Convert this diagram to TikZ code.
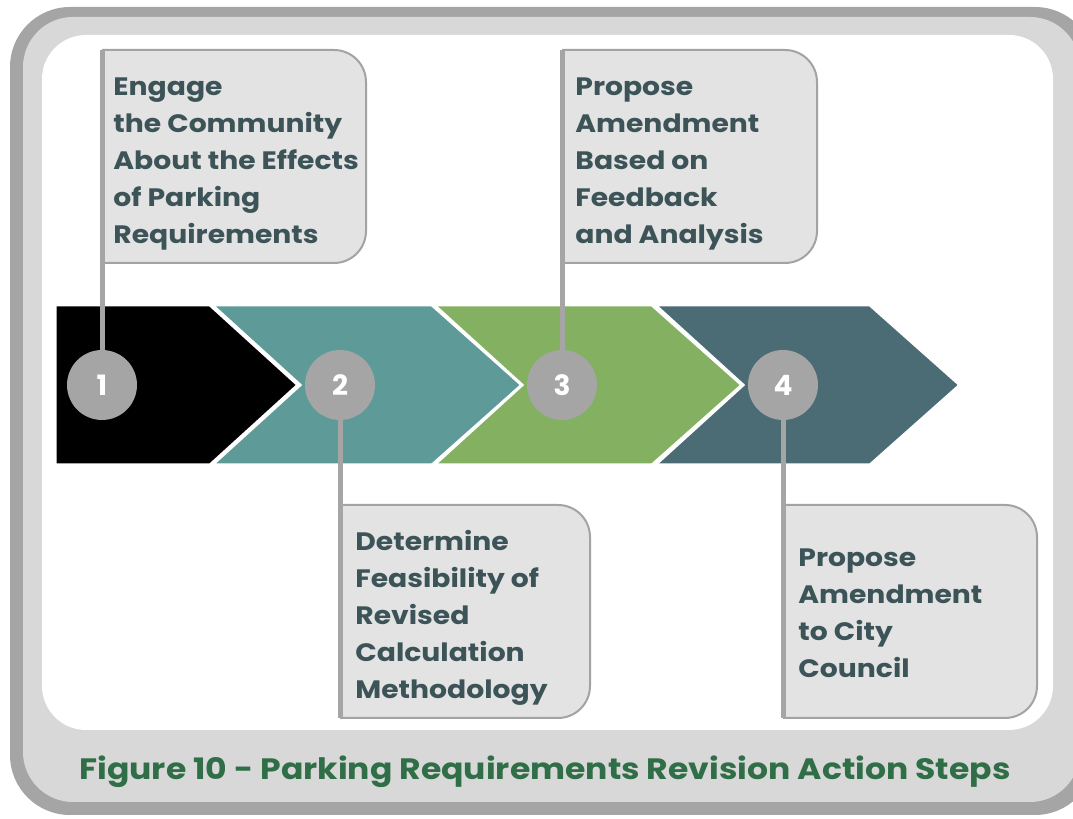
\documentclass[tikz,border=0pt]{standalone}
\usepackage{fontspec}
\setmainfont{Poppins}
\newfontfamily\widefont{Poppins}[FakeStretch=1.12]
\definecolor{FrameDark}{HTML}{A5A5A5}
\definecolor{FrameLight}{HTML}{D8D8D8}
\definecolor{CardFill}{HTML}{E3E3E3}
\definecolor{CardEdge}{HTML}{A3A3A3}
\definecolor{StepOne}{HTML}{000000}
\definecolor{StepTwo}{HTML}{5E9B98}
\definecolor{StepThree}{HTML}{83B061}
\definecolor{StepFour}{HTML}{4B6C75}
\definecolor{CardText}{HTML}{3C5458}
\definecolor{CaptionGreen}{HTML}{2F6E46}

\begin{document}
\begin{tikzpicture}[x=0.5pt, y=0.5pt,
    chevron/.style={draw=white, line width=1.5pt},
    dot/.style={circle, fill=FrameDark, minimum size=35pt, inner sep=0pt,
      text=white, font=\fontsize{14}{14}\selectfont\bfseries},
    leader/.style={FrameDark, line width=2.5pt},
    card/.style={fill=CardFill, draw=CardEdge, line width=1pt},
    cardtext/.style={anchor=north west, inner sep=0pt, align=left,
      text=CardText, font=\widefont\fontsize{12.6}{18.5}\selectfont\bfseries}]
  \useasboundingbox (0,0) rectangle (1073,819);
  % Frame
  \fill[FrameDark, rounded corners=30pt] (10,4) rectangle (1095,812);
  \fill[FrameLight, rounded corners=25pt] (23,17) rectangle (1080,802);
  \fill[white, rounded corners=22pt] (42,89) rectangle (1053,784);
  % Arrows
  \filldraw[chevron, fill=StepOne] (55,514) -- (210,514) -- (298,434)
    -- (210,354) -- (55,354) -- cycle;
  \filldraw[chevron, fill=StepTwo] (212,514) -- (432,514) -- (522,434)
    -- (432,354) -- (212,354) -- (300,434) -- cycle;
  \filldraw[chevron, fill=StepThree] (434,514) -- (652,514) -- (742,434)
    -- (652,354) -- (434,354) -- (522,434) -- cycle;
  \filldraw[chevron, fill=StepFour] (655,514) -- (870,514) -- (960,434)
    -- (870,354) -- (655,354) -- (743,434) -- cycle;
  % Cards
  \coordinate (c1) at (102,769);
  \coordinate (c2) at (340,101);
  \coordinate (c3) at (562,769);
  \coordinate (c4) at (783,101);
  \filldraw[card] (c1) -- (334,769) arc[start angle=90, end angle=0, radius=32]
    -- (366,588) arc[start angle=0, end angle=-90, radius=32] -- (102,556);
  \filldraw[card] (c3) -- (785,769) arc[start angle=90, end angle=0, radius=32]
    -- (817,588) arc[start angle=0, end angle=-90, radius=32] -- (562,556);
  \filldraw[card] (340,314) -- (558,314) arc[start angle=90, end angle=0, radius=32]
    -- (590,133) arc[start angle=0, end angle=-90, radius=32] -- (c2);
  \filldraw[card] (783,314) -- (1005,314) arc[start angle=90, end angle=0, radius=32]
    -- (1037,133) arc[start angle=0, end angle=-90, radius=32] -- (c4);
  % Steps
  \node[dot] (s1) at (102,434) {1};
  \node[dot] (s2) at (340,434) {2};
  \node[dot] (s3) at (562,434) {3};
  \node[dot] (s4) at (783,434) {4};
  \begin{scope}[on background layer/.try]
    \draw[leader] (s1) -- (c1);
    \draw[leader] (s2) -- (c2);
    \draw[leader] (s3) -- (c3);
    \draw[leader] (s4) -- (c4);
  \end{scope}
  \node[cardtext] (t1) at (113,742) {Engage\\the Community\\About the Effects\\of Parking\\Requirements};
  \node[cardtext] (t3) at (575,742) {Propose\\Amendment\\Based on\\Feedback\\and Analysis};
  \node[cardtext] (t2) at (355,289) {Determine\\Feasibility of\\Revised\\Calculation\\Methodology};
  \node[cardtext] (t4) at (798,271) {Propose\\Amendment\\to City\\Council};
  % Caption
  \node[anchor=base, text=CaptionGreen, font=\widefont\fontsize{14.75}{15}\selectfont\bfseries]
    (caption) at (545,39) {Figure 10 - Parking Requirements Revision Action Steps};
\end{tikzpicture}
\end{document}
